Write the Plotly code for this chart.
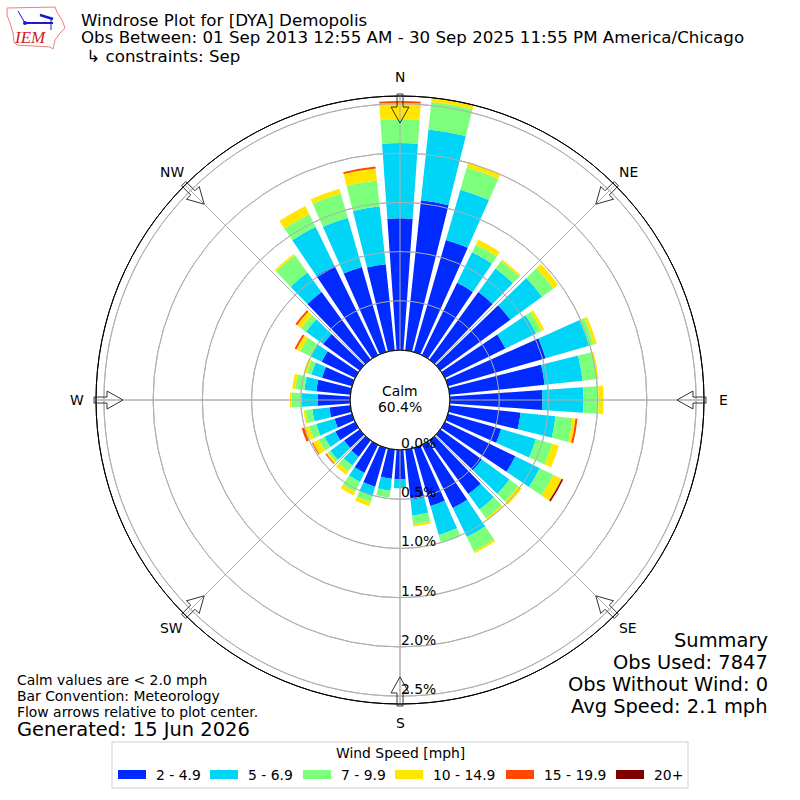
import math
import plotly.graph_objects as go

# Directions and speed classes
directions = list(range(10, 361, 10))
speed_labels = ["2 - 4.9", "5 - 6.9", "7 - 9.9", "10 - 14.9", "15 - 19.9", "20+"]
speed_colors = ["#002aff", "#00d5f7", "#7cff7a", "#ffe600", "#ff4700", "#7f0000"]

# Frequency [%] per direction
speed_2_5 = [1.531, 1.184, 0.816, 0.847, 0.878, 0.684, 1.031, 0.969, 0.939, 0.724, 0.561, 0.796,
             0.520, 0.673, 0.714, 0.612, 0.510, 0.296, 0.296, 0.408, 0.316, 0.204, 0.194, 0.224,
             0.184, 0.214, 0.327, 0.347, 0.316, 0.378, 0.459, 0.847, 1.010, 0.898, 0.878, 1.337]
speed_5_7 = [0.724, 0.531, 0.347, 0.296, 0.398, 0.347, 0.459, 0.388, 0.418, 0.357, 0.367, 0.276,
             0.347, 0.194, 0.327, 0.306, 0.163, 0.092, 0.122, 0.102, 0.102, 0.112, 0.173, 0.122,
             0.194, 0.173, 0.163, 0.122, 0.112, 0.122, 0.214, 0.245, 0.439, 0.520, 0.592, 0.765]
speed_7_10 = [0.281, 0.235, 0.087, 0.092, 0.143, 0.061, 0.051, 0.143, 0.153, 0.173, 0.173, 0.153,
              0.112, 0.112, 0.163, 0.082, 0.092, 0.0, 0.071, 0.061, 0.112, 0.071, 0.031, 0.066,
              0.077, 0.071, 0.102, 0.092, 0.051, 0.122, 0.061, 0.214, 0.143, 0.255, 0.265, 0.245]
speed_10_15 = [0.041, 0.051, 0.056, 0.020, 0.061, 0.031, 0.031, 0.020, 0.051, 0.031, 0.071, 0.092,
               0.041, 0.020, 0.020, 0.0, 0.020, 0.0, 0.0, 0.041, 0.041, 0.041, 0.020, 0.066,
               0.051, 0.020, 0.020, 0.031, 0.031, 0.041, 0.051, 0.020, 0.092, 0.051, 0.122, 0.163]
speed_15_20 = [0.0, 0.0, 0.0, 0.0, 0.0, 0.0, 0.0, 0.0, 0.0, 0.020, 0.0, 0.005,
               0.0, 0.0, 0.0, 0.0, 0.0, 0.0, 0.0, 0.0, 0.0, 0.0, 0.010, 0.010,
               0.025, 0.0, 0.0, 0.0, 0.0, 0.020, 0.020, 0.0, 0.0, 0.0, 0.020, 0.020]
speed_20_up = [0.0, 0.0, 0.0, 0.0, 0.0, 0.0, 0.0, 0.0, 0.0, 0.0, 0.0, 0.015,
               0.0, 0.0, 0.0, 0.0, 0.0, 0.0, 0.0, 0.0, 0.0, 0.0, 0.0, 0.0,
               0.0, 0.0, 0.0, 0.0, 0.0, 0.0, 0.0, 0.0, 0.0, 0.0, 0.0, 0.0]
speed_series = [speed_2_5, speed_5_7, speed_7_10, speed_10_15, speed_15_20, speed_20_up]

compass_angles = [0, 45, 90, 135, 180, 225, 270, 315]
compass_labels = ["N", "NE", "E", "SE", "S", "SW", "W", "NW"]
radial_ticks = [0, 0.5, 1.0, 1.5, 2.0, 2.5]

title_lines = ["Windrose Plot for [DYA] Demopolis",
               "Obs Between: 01 Sep 2013 12:55 AM - 30 Sep 2025 11:55 PM America/Chicago",
               " ↳ constraints: Sep"]
notes = ["Calm values are < 2.0 mph", "Bar Convention: Meteorology", "Flow arrows relative to plot center."]
summary = ["Summary", "Obs Used: 7847", "Obs Without Wind: 0", "Avg Speed: 2.1 mph"]

FONT = "DejaVu Sans"
CX, CY, R, HOLE = 400, 400, 304, 50
R_MAX = 2.58


def px_x(x):
    return x / 800


def px_y(y):
    return 1 - y / 800


def radius_px(value):
    return HOLE + value / R_MAX * (R - HOLE)


def add_text(fig, x, y, text, size, anchor="left", color="black", family=FONT):
    fig.add_annotation(x=px_x(x), y=px_y(y), xref="paper", yref="paper", text=text, showarrow=False,
                       xanchor=anchor, yanchor="middle", align=anchor, borderpad=0,
                       font=dict(family=family, size=size, color=color))


def add_circle(fig, r, color):
    fig.add_shape(type="circle", xref="paper", yref="paper", x0=px_x(CX - r), x1=px_x(CX + r),
                  y0=px_y(CY + r), y1=px_y(CY - r), line=dict(color=color, width=1), layer="above")


def polar_px(r, angle, side=0):
    a = math.radians(angle)
    return CX + r * math.sin(a) + side * math.cos(a), CY - r * math.cos(a) + side * math.sin(a)


def arrow_path(angle):
    # outline of a flow arrow, pointing at the centre
    outline = [(306, -3), (293, -3), (293, -9), (277, 0), (293, 9), (293, 3), (306, 3)]
    pts = []
    for r, w in outline:
        x, y = polar_px(r, angle, w)
        pts.append("%.4f,%.4f" % (px_x(x), px_y(y)))
    return "M" + " L".join(pts) + " Z"


fig = go.Figure()

for label, color, values in zip(speed_labels, speed_colors, speed_series):
    fig.add_trace(go.Barpolar(r=values, theta=directions, width=8, name=label,
                              marker=dict(color=color, line=dict(width=0))))

fig.update_layout(
    width=800,
    height=800,
    margin=dict(l=0, r=0, t=0, b=0),
    paper_bgcolor="white",
    showlegend=False,
    font=dict(family=FONT, size=14, color="black"),
    polar=dict(
        domain=dict(x=[px_x(CX - R), px_x(CX + R)], y=[px_y(CY + R), px_y(CY - R)]),
        bgcolor="white",
        barmode="stack",
        hole=HOLE / R,
        angularaxis=dict(direction="clockwise", rotation=90, tickmode="array",
                         tickvals=compass_angles, showticklabels=False, ticks="",
                         gridcolor="#b0b0b0", gridwidth=1, linecolor="black", linewidth=1),
        radialaxis=dict(range=[0, R_MAX], angle=-90, tickmode="array", tickvals=radial_ticks,
                        showticklabels=False, ticks="", showline=False,
                        gridcolor="#b0b0b0", gridwidth=1),
    ),
)

# Grid on top of the bars
for tick in radial_ticks:
    add_circle(fig, radius_px(tick), "#b0b0b0")
    add_text(fig, 418, CY + radius_px(tick) - 7, "%.1f%%" % tick, 13.9, anchor="center")
for angle in compass_angles:
    x0, y0 = polar_px(HOLE, angle)
    x1, y1 = polar_px(R, angle)
    fig.add_shape(type="line", xref="paper", yref="paper", x0=px_x(x0), y0=px_y(y0), x1=px_x(x1), y1=px_y(y1),
                  line=dict(color="#b0b0b0", width=1), layer="above")
add_circle(fig, HOLE, "black")
add_circle(fig, R, "black")

# Flow arrows and compass labels
for angle, label in zip(compass_angles, compass_labels):
    fig.add_shape(type="path", path=arrow_path(angle), xref="paper", yref="paper",
                  line=dict(color="#333333", width=1), fillcolor="rgba(255,255,255,0)", layer="above")
    x, y = polar_px(323, angle)
    add_text(fig, x, y, label, 13.9, anchor="center")

# Logo
iowa = [(7, 8), (55, 7), (57, 12), (62, 20), (65, 28), (60, 33), (55, 40), (53, 49), (50, 47),
        (17, 45), (14, 42), (13, 33), (10, 23), (7, 15)]
fig.add_shape(type="path", xref="paper", yref="paper", line=dict(color="#e88080", width=1),
              path="M" + " L".join("%.4f,%.4f" % (px_x(x), px_y(y)) for x, y in iowa) + " Z")
for seg, w in [([(25, 23), (53, 23)], 2), ([(25, 23), (18, 11)], 1), ([(51, 19), (51, 30)], 1), ([(40, 15), (53, 19)], 2.5)]:
    fig.add_shape(type="line", xref="paper", yref="paper", line=dict(color="#1a1ad0", width=w),
                  x0=px_x(seg[0][0]), y0=px_y(seg[0][1]), x1=px_x(seg[1][0]), y1=px_y(seg[1][1]))
fig.add_shape(type="circle", xref="paper", yref="paper", fillcolor="#1a1ad0", line=dict(width=0),
              x0=px_x(23), y0=px_y(21), x1=px_x(27), y1=px_y(25))
add_text(fig, 30, 38, "<i>IEM</i>", 17, anchor="center", color="#d02020", family="Liberation Serif")

# Titles
for y, line in zip([21, 37, 56], title_lines):
    add_text(fig, 79.5, y, line.replace(" ", "\u00a0"), 16.67)

# Calm in the middle
add_text(fig, 400, 391, "Calm", 13.9, anchor="center")
add_text(fig, 400, 407, "60.4%", 13.9, anchor="center")

# Notes and summary
for y, line in zip([680, 696, 712], notes):
    add_text(fig, 15.5, y, line, 13.9)
add_text(fig, 15.5, 729, "Generated: 15 Jun 2026", 19.44)
for y, line in zip([640, 662, 684, 706], summary):
    add_text(fig, 768.5, y, line, 19.44, anchor="right")

# Legend box
fig.add_shape(type="rect", xref="paper", yref="paper", x0=px_x(112), x1=px_x(688), y0=px_y(742), y1=px_y(788),
              line=dict(color="#d0d0d0", width=1), fillcolor="white")
add_text(fig, 400, 753, "Wind Speed [mph]", 13.9, anchor="center")
for x, label, color in zip([118, 210, 303, 395, 506, 616], speed_labels, speed_colors):
    fig.add_shape(type="rect", xref="paper", yref="paper", x0=px_x(x), x1=px_x(x + 28),
                  y0=px_y(770), y1=px_y(779), line=dict(width=0), fillcolor=color)
    add_text(fig, x + 37, 775, label, 13.9)

fig.write_html("out.html", config=dict(displayModeBar=False),
               post_script="document.body.style.margin='0';")
